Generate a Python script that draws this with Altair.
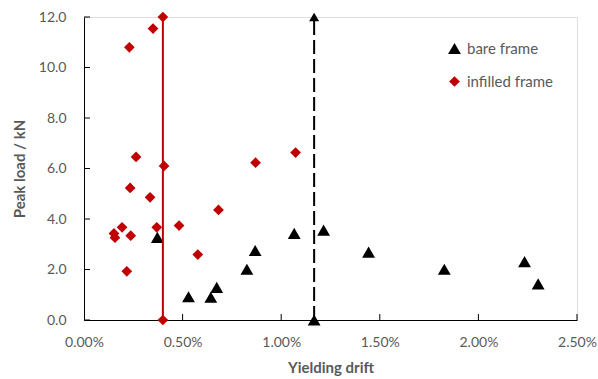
import altair as alt
import pandas as pd

# ---- data ----
bare_x = [0.372, 0.530, 0.643, 0.673, 0.826, 0.868, 1.066, 1.215, 1.443, 1.827, 2.234, 2.303]
bare_y = [3.27, 0.92, 0.90, 1.29, 2.01, 2.75, 3.43, 3.56, 2.69, 2.01, 2.31, 1.43]

infill_x = [0.350, 0.230, 0.264, 0.406, 0.870, 1.073, 0.234, 0.335, 0.682, 0.482,
            0.369, 0.193, 0.152, 0.157, 0.237, 0.577, 0.217]
infill_y = [11.54, 10.80, 6.46, 6.10, 6.23, 6.63, 5.23, 4.86, 4.36, 3.74,
            3.67, 3.67, 3.43, 3.26, 3.34, 2.59, 1.93]

# vertical limit lines
infill_line_x = [0.40, 0.40]
infill_line_y = [0.0, 12.0]
bare_line_x = [1.167, 1.167]
bare_line_y = [0.0, 12.0]

x_ticks = [0.0, 0.5, 1.0, 1.5, 2.0, 2.5]
y_ticks = [0, 2, 4, 6, 8, 10, 12]

series_names = ["bare frame", "infilled frame"]
RED = "#c00000"
GRAY = "#595959"
FONT = "Lato"

pts = pd.DataFrame({
    "x": bare_x + infill_x,
    "y": bare_y + infill_y,
    "series": [series_names[0]] * len(bare_x) + [series_names[1]] * len(infill_x),
})
red_line = pd.DataFrame({"x": infill_line_x, "y": infill_line_y})
black_line = pd.DataFrame({"x": bare_line_x, "y": bare_line_y})
black_bottom = black_line.iloc[[0]]
black_top = black_line.iloc[[1]]
xt = pd.DataFrame({"v": x_ticks[1:]})
yt = pd.DataFrame({"v": y_ticks})

W, H = 493, 303

xscale = alt.Scale(domain=[0, 2.5], nice=False, zero=False)
yscale = alt.Scale(domain=[0, 12], nice=False)

xaxis = alt.Axis(
    title="Yielding drift", values=x_ticks, ticks=False, tickSize=0, grid=False,
    labelExpr="format(datum.value, '.2f') + '%'", labelPadding=15,
    labelFlush=False, labelOverlap=False,
    labelFont=FONT, labelFontSize=14, labelColor=GRAY,
    domainColor="#000000", domainWidth=1,
    titleFont=FONT, titleFontSize=15, titleFontWeight="bold", titleColor=GRAY,
    titleY=52, titleBaseline="alphabetic",
)
yaxis = alt.Axis(
    title="Peak load / kN", values=y_ticks, ticks=False, tickSize=0, grid=False,
    format=".1f", labelPadding=18, labelFlush=False, labelOverlap=False,
    labelFont=FONT, labelFontSize=14, labelColor=GRAY,
    domainColor="#000000", domainWidth=1,
    titleFont=FONT, titleFontSize=15, titleFontWeight="bold", titleColor=GRAY,
    titleX=-65, titleY=H / 2, titleBaseline="middle", titleAngle=270,
)

points = alt.Chart(pts).mark_point(filled=True, opacity=1).encode(
    x=alt.X("x:Q", scale=xscale, axis=xaxis),
    y=alt.Y("y:Q", scale=yscale, axis=yaxis),
    color=alt.Color("series:N", scale=alt.Scale(domain=series_names, range=["#000000", RED]),
                    legend=alt.Legend(
                        title=None, orient="none", legendX=363, legendY=24,
                        labelFont=FONT, labelFontSize=15, labelColor=GRAY,
                        symbolSize=120, symbolStrokeWidth=0, labelOffset=5,
                        rowPadding=17, padding=0,
                    )),
    shape=alt.Shape("series:N", scale=alt.Scale(domain=series_names, range=["triangle-up", "diamond"])),
    size=alt.Size("series:N", scale=alt.Scale(domain=series_names, range=[165, 115]), legend=None),
)

redl = alt.Chart(red_line).mark_line(color=RED, strokeWidth=2).encode(
    x=alt.X("x:Q", scale=xscale), y=alt.Y("y:Q", scale=yscale))
redp = alt.Chart(red_line).mark_point(shape="diamond", filled=True, color=RED, size=115, opacity=1).encode(
    x=alt.X("x:Q", scale=xscale), y=alt.Y("y:Q", scale=yscale))

blackl = alt.Chart(black_line).mark_line(color="#000000", strokeWidth=2, strokeDash=[14, 5]).encode(
    x=alt.X("x:Q", scale=xscale), y=alt.Y("y:Q", scale=yscale))
blackp = alt.Chart(black_bottom).mark_point(shape="triangle-up", filled=True, color="#000000", size=165, opacity=1).encode(
    x=alt.X("x:Q", scale=xscale), y=alt.Y("y:Q", scale=yscale))
arrow = alt.Chart(black_top).mark_point(shape="triangle-up", filled=True, color="#000000", size=100, opacity=1).encode(
    x=alt.X("x:Q", scale=xscale), y=alt.Y("y:Q", scale=yscale))

xtick = alt.Chart(xt).mark_rule(color="#000000", strokeWidth=1).encode(
    x=alt.X("v:Q", scale=xscale), y=alt.value(H - 6), y2=alt.value(H))
ytick = alt.Chart(yt).mark_rule(color="#000000", strokeWidth=1).encode(
    y=alt.Y("v:Q", scale=yscale), x=alt.value(0), x2=alt.value(6))

chart = alt.layer(xtick, ytick, points, redl, redp, blackl, blackp, arrow).properties(
    width=W, height=H,
    autosize=alt.AutoSizeParams(type="none"),
    padding={"left": 84, "top": 17, "right": 21, "bottom": 59},
).configure_view(stroke=None).configure(background="white")

chart.save("out.html", embed_options={"renderer": "svg", "actions": False})
